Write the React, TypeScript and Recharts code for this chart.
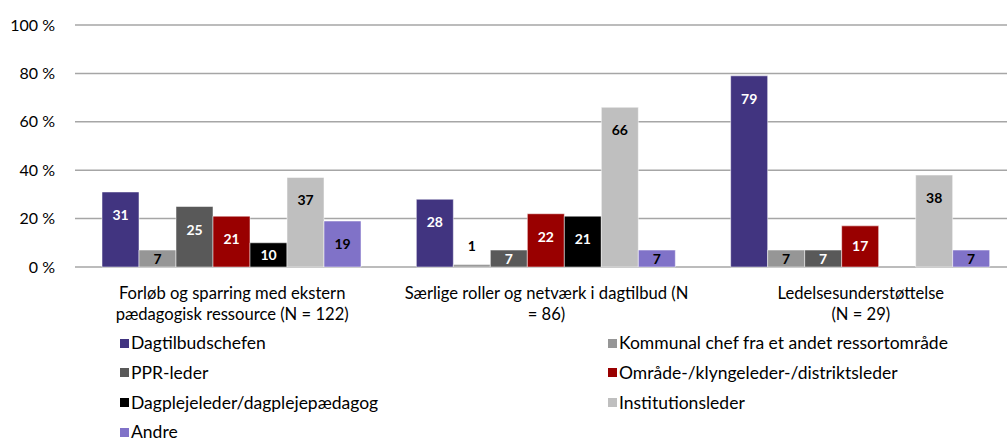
import React from 'react';
import { BarChart, Bar, XAxis, YAxis, CartesianGrid, LabelList } from 'recharts';

const categories = [
  'Forløb og sparring med ekstern\npædagogisk ressource (N = 122)',
  'Særlige roller og netværk i dagtilbud (N\n= 86)',
  'Ledelsesunderstøttelse\n(N = 29)',
];

const seriesNames = [
  'Dagtilbudschefen',
  'Kommunal chef fra et andet ressortområde',
  'PPR-leder',
  'Område-/klyngeleder-/distriktsleder',
  'Dagplejeleder/dagplejepædagog',
  'Institutionsleder',
  'Andre',
];

const dagtilbudschefen = [31, 28, 79];
const kommunalChef = [7, 1, 7];
const pprLeder = [25, 7, 7];
const omraadeleder = [21, 22, 17];
const dagplejeleder = [10, 21, 0];
const institutionsleder = [37, 66, 38];
const andre = [19, 7, 7];

const yTicks = [0, 20, 40, 60, 80, 100];

const seriesValues = [
  dagtilbudschefen,
  kommunalChef,
  pprLeder,
  omraadeleder,
  dagplejeleder,
  institutionsleder,
  andre,
];

const colors = ['#413480', '#969696', '#595959', '#990000', '#000000', '#bfbfbf', '#8072c8'];
const labelColors = ['#fff', '#000', '#fff', '#fff', '#fff', '#000', '#000'];

const data = categories.map((name, i) => {
  const row: Record<string, string | number> = { name };
  seriesValues.forEach((vals, s) => {
    row['s' + s] = vals[i];
  });
  return row;
});

const FONT = 'Lato, "Open Sans", sans-serif';

const CategoryTick = (props: any) => {
  const { x, y, payload } = props;
  const lines = String(payload.value).split('\n');
  return (
    <g transform={`translate(${x},${y})`}>
      {lines.map((line, i) => (
        <text
          key={i}
          x={0}
          y={i * 21 + 24}
          textAnchor="middle"
          fill="#000"
          fontSize={16.6}
          fontFamily={FONT}
        >
          {line}
        </text>
      ))}
    </g>
  );
};

const makeLabel = (s: number) => (props: any) => {
  const { x, y, width, height, value } = props;
  const h = Math.abs(height);
  let cy: number;
  let fill = labelColors[s];
  if (h < 10) {
    cy = y - 19;
    fill = '#000';
  } else {
    cy = y + Math.min(23, h / 2);
  }
  return (
    <text
      x={x + width / 2}
      y={cy}
      dy={5}
      textAnchor="middle"
      fill={fill}
      fontSize={14}
      fontWeight={700}
      fontFamily={FONT}
    >
      {value}
    </text>
  );
};

export default function App() {
  return (
    <div style={{ position: 'fixed', left: 0, top: 0, width: 1007, height: 443, overflow: 'hidden', background: '#fff', fontFamily: FONT }}>
      <BarChart
        width={1020}
        height={443}
        data={data}
        margin={{ top: 25, right: 2, bottom: 0, left: 0 }}
        barCategoryGap={27}
        barGap={0}
      >
        <CartesianGrid vertical={false} stroke="#a6a6a6" strokeWidth={1.5} />
        <XAxis
          dataKey="name"
          axisLine={false}
          tickLine={false}
          height={176}
          tick={<CategoryTick />}
          interval={0}
        />
        <YAxis
          width={75}
          domain={[0, 100]}
          ticks={yTicks}
          axisLine={false}
          tickLine={false}
          tickMargin={14}
          tickFormatter={(v: number) => `${v} %`}
          tick={{ fill: '#000', fontSize: 16, fontFamily: FONT }}
        />
        {seriesNames.map((n, s) => (
          <Bar
            key={n}
            dataKey={'s' + s}
            name={n}
            fill={colors[s]}
            stroke="#ffffff"
            strokeOpacity={0.5}
            strokeWidth={1}
            isAnimationActive={false}
          >
            <LabelList dataKey={'s' + s} content={makeLabel(s)} />
          </Bar>
        ))}
      </BarChart>
      <div style={{ position: 'absolute', left: 120, top: 335, width: 880, display: 'grid', gridTemplateColumns: '488px 1fr', rowGap: 13.8 }}>
        {seriesNames.map((n, s) => (
          <div key={n} style={{ display: 'flex', alignItems: 'center', height: 16, lineHeight: '16px', fontSize: 17.5, color: '#000', whiteSpace: 'nowrap' }}>
            <span style={{ width: 9, height: 9, background: colors[s], display: 'inline-block', marginRight: 2, flexShrink: 0 }} />
            <span>{n}</span>
          </div>
        ))}
      </div>
    </div>
  );
}
